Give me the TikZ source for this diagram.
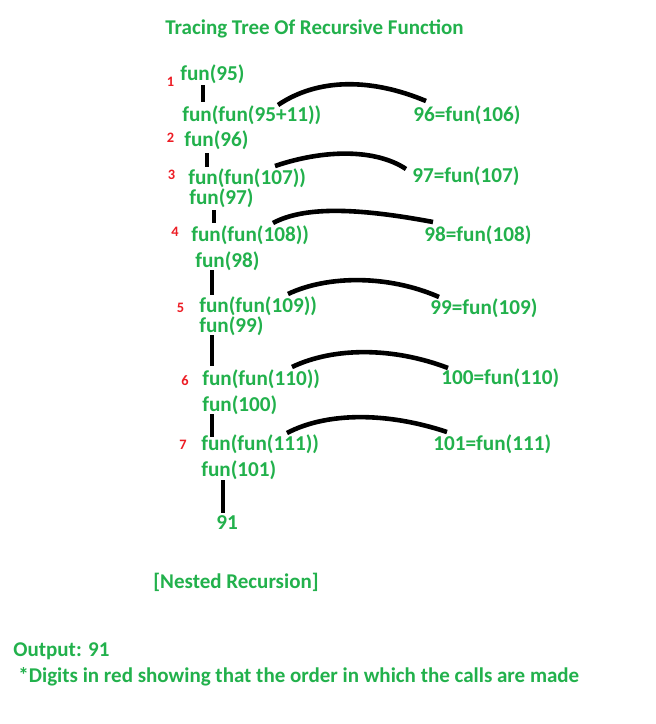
\documentclass[tikz,border=0pt]{standalone}
\usepackage{fontspec}
\setmainfont{Carlito}
\usepackage{xcolor}
\usetikzlibrary{calc}

\definecolor{tracegreen}{RGB}{34,177,76}
\definecolor{orderred}{RGB}{237,28,36}

\begin{document}
\begin{tikzpicture}[
    x=0.5pt,
    y=-0.5pt,
    call/.style={
        anchor=west,
        inner sep=0pt,
        text=tracegreen,
        font=\bfseries\fontsize{10.6}{12.5}\selectfont
    },
    note/.style={
        anchor=west,
        inner sep=0pt,
        text=tracegreen,
        font=\bfseries\fontsize{10.5}{12.5}\selectfont
    },
    order/.style={
        inner sep=0pt,
        text=orderred,
        font=\bfseries\fontsize{7.2}{8}\selectfont
    },
    stem/.style={
        line width=2.3pt
    },
    hump/.style={
        line width=2.3pt
    }
]
\useasboundingbox[fill=white] (0,0) rectangle (656,724);

% Title
\node[note] (title) at (165,29) {Tracing Tree Of Recursive Function};


% Call 1 --- fun(95) expands to the nested call
\node[order] (n1) at (170.5,81.5) {1};
\node[call]  (c1) at (180,74)  {fun(95)};
\node[call]  (e1) at (182,115) {fun(fun(95+11))};
\node[call]  (v1) at (413,115) {96=fun(106)};

\draw[stem] ($(c1.west)+(23,11)$) -- ($(e1.west)+(21,-13)$);
\draw[hump]
    ($(e1.west)+(96,-10)$)
    .. controls +(40,-27) and +(-55,-23) ..
    ($(v1.west)+(13,-14)$);


% Call 2 and 3
\node[order] (n2) at (170.5,137.5) {2};
\node[call]  (c2) at (184,140) {fun(96)};
\node[order] (n3) at (171.5,175) {3};
\node[call]  (e2) at (188,178) {fun(fun(107))};
\node[call]  (v2) at (412,176) {97=fun(107)};

\draw[stem] ($(c2.west)+(23,13)$) -- ($(e2.west)+(19,-11)$);
\draw[hump]
    ($(e2.west)+(87,-12)$)
    .. controls +(50,-17) and +(-30,-20) ..
    ($(v2.west)+(-6,-7)$);


% Call 4
\node[call]  (c3) at (189,198) {fun(97)};
\node[order] (n4) at (175,232) {4};
\node[call]  (e3) at (191,235.5) {fun(fun(108))};
\node[call]  (v3) at (424,235) {98=fun(108)};

\draw[stem] ($(c3.west)+(25,12)$) -- ($(e3.west)+(23,-12.5)$);
\draw[hump]
    ($(e3.west)+(82,-12.5)$)
    .. controls +(30,-16) and +(-80,-15) ..
    ($(v3.west)+(9,-13)$);


% Call 5
\node[call]  (c4) at (195,261) {fun(98)};
\node[order] (n5) at (180.5,308) {5};
\node[call]  (e4) at (199,306) {fun(fun(109))};
\node[call]  (v4) at (430,308) {99=fun(109)};

\draw[stem] ($(c4.west)+(17,9)$) -- ($(e4.west)+(13,-11)$);
\draw[hump]
    ($(e4.west)+(89,-12)$)
    .. controls +(40,-19) and +(-50,-22) ..
    ($(v4.west)+(9,-11)$);


% Call 6
\node[call]  (c5) at (199,326) {fun(99)};
\node[order] (n6) at (185,381) {6};
\node[call]  (e5) at (202,379) {fun(fun(110))};
\node[call]  (v5) at (441,378) {100=fun(110)};

\draw[stem] ($(c5.west)+(13,9)$) -- ($(e5.west)+(10,-13)$);
\draw[hump]
    ($(e5.west)+(90,-12)$)
    .. controls +(42,-20) and +(-55,-21) ..
    ($(v5.west)+(7,-10)$);


% Call 7
\node[call]  (c6) at (202,405) {fun(100)};
\node[order] (n7) at (183,445) {7};
\node[call]  (e6) at (201,444) {fun(fun(111))};
\node[call]  (v6) at (433,444) {101=fun(111)};

\draw[stem] ($(c6.west)+(10,9)$) -- ($(e6.west)+(11,-7)$);
\draw[hump]
    ($(e6.west)+(86,-11)$)
    .. controls +(40,-21) and +(-60,-20) ..
    ($(v6.west)+(14,-12)$);


% Base case
\node[call]  (c7)  at (201,470) {fun(101)};
\node[call]  (res) at (216,523) {91};

\draw[stem] ($(c7.west)+(22,10)$) -- ($(res.west)+(7,-10)$);


% Notes below the tree
\node[note] (kind) at (153,582) {[Nested Recursion]};
\node[note] (out)  at (13,651)  {Output: 91};
\node[note] (hint) at (18,677)
    {*Digits in red showing that the order in which the calls are made};

\end{tikzpicture}
\end{document}
